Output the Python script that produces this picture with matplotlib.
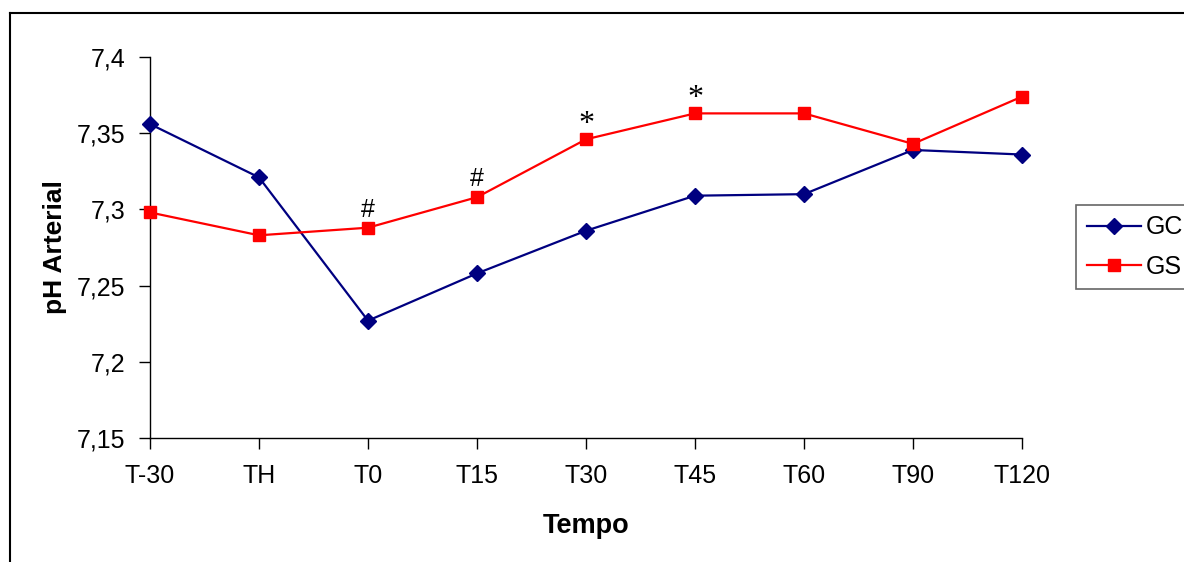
import matplotlib
matplotlib.use("Agg")
import matplotlib.pyplot as plt
from matplotlib.lines import Line2D

categories = ["T-30", "TH", "T0", "T15", "T30", "T45", "T60", "T90", "T120"]
gc_values = [7.356, 7.321, 7.227, 7.258, 7.286, 7.309, 7.310, 7.339, 7.336]
gs_values = [7.298, 7.283, 7.288, 7.308, 7.346, 7.363, 7.363, 7.343, 7.374]
annot_idx = [2, 3, 4, 5]
annot_marks = ["#", "#", "*", "*"]
y_ticks = [7.15, 7.2, 7.25, 7.3, 7.35, 7.4]
y_ticklabels = ["7,15", "7,2", "7,25", "7,3", "7,35", "7,4"]

plt.rcParams['font.family'] = ['Liberation Sans', 'DejaVu Sans']

W, H = 1184, 562
fig = plt.figure(figsize=(W / 100, H / 100), dpi=100)
ax = fig.add_axes([150 / W, 1 - 438 / H, (1022 - 150) / W, (438 - 57) / H])

x = list(range(len(categories)))
l1, = ax.plot(x, gc_values, color='#000080', lw=1.6, marker='D', ms=8.5,
              markeredgecolor='#000080', markerfacecolor='#000080', clip_on=False, zorder=3)
l2, = ax.plot(x, gs_values, color='#FF0000', lw=1.6, marker='s', ms=8,
              markeredgecolor='#FF0000', markerfacecolor='#FF0000', clip_on=False, zorder=4)

for i, m in zip(annot_idx, annot_marks):
    if m == "#":
        ax.annotate(m, (x[i], gs_values[i]), xytext=(0, 8), textcoords='offset points',
                    ha='center', va='baseline', fontsize=18)
    else:
        ax.annotate(m, (x[i], gs_values[i]), xytext=(0, 5), textcoords='offset points',
                    ha='center', va='baseline', fontsize=23,
                    family=['Liberation Serif', 'DejaVu Serif'])

ax.set_xlim(0, len(categories) - 1)
ax.set_ylim(7.15, 7.4)
ax.set_xticks(x)
ax.set_xticklabels(categories)
ax.set_yticks(y_ticks)
ax.set_yticklabels(y_ticklabels)
ax.tick_params(axis='both', direction='out', length=8, width=1, labelsize=18)
ax.tick_params(axis='x', pad=11)
ax.tick_params(axis='y', pad=10)
for s in ['top', 'right']:
    ax.spines[s].set_visible(False)
for s in ['left', 'bottom']:
    ax.spines[s].set_linewidth(1)

ax.set_xlabel("Tempo", fontsize=19.5, fontweight='bold', labelpad=18)
ax.set_ylabel("pH Arterial", fontsize=19, fontweight='bold', labelpad=7)

leg = fig.legend([l1, l2], ["GC", "GS"], loc='upper left',
                 bbox_to_anchor=(1076 / W, 1 - 205 / H), fontsize=18,
                 frameon=True, fancybox=False, handlelength=2.16, handletextpad=0.2,
                 labelspacing=0.6, borderpad=0.42, borderaxespad=0)
leg.get_frame().set_edgecolor('#404040')
leg.get_frame().set_linewidth(1.2)

fig.add_artist(Line2D([10 / W, 10 / W], [0, 1 - 13 / H], color='black', lw=1.5,
                      transform=fig.transFigure))
fig.add_artist(Line2D([10 / W, 1], [1 - 13 / H, 1 - 13 / H], color='black', lw=1.5,
                      transform=fig.transFigure))

fig.savefig("out.png", dpi=100)
